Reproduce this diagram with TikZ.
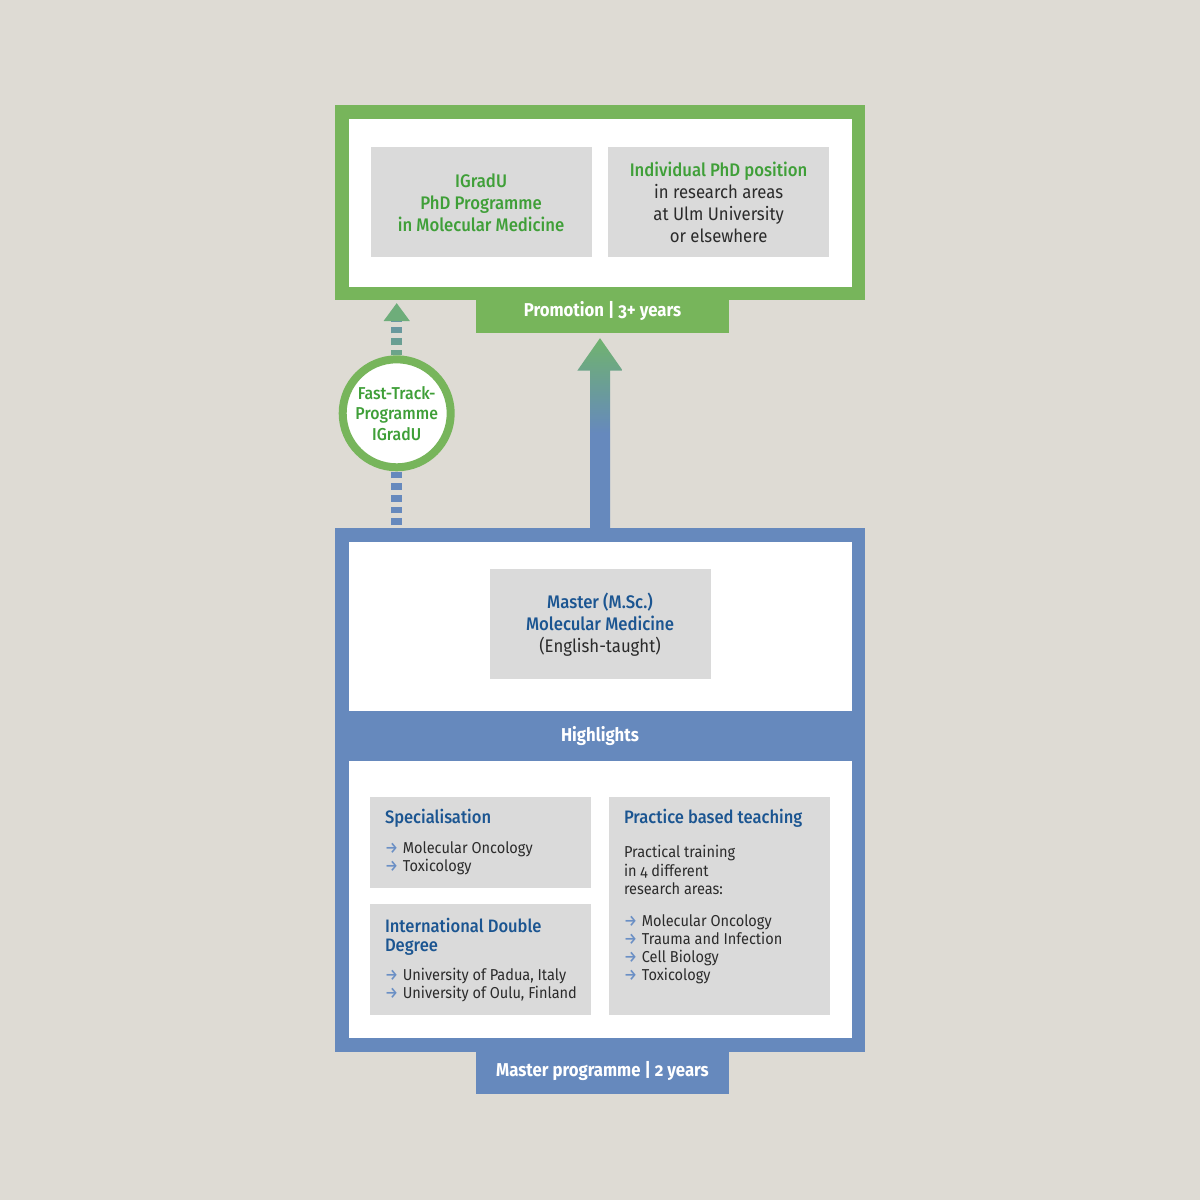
\documentclass[tikz,border=0pt]{standalone}
\usepackage{fontspec}
\setmainfont{Fira Sans}[Numbers=OldStyle,FakeStretch=0.92]
\newfontfamily\medfont{Fira Sans Medium}[Numbers=OldStyle,FakeStretch=0.92]
\newfontfamily\tabfont{Fira Sans}[Numbers=OldStyle,FakeStretch=0.9]
\usetikzlibrary{arrows.meta}
\usetikzlibrary{positioning}
\usetikzlibrary{calc}
\usetikzlibrary{fadings}
\definecolor{bggray}{HTML}{DEDBD4}
\definecolor{promgreen}{HTML}{77B55B}
\definecolor{titlegreen}{HTML}{3F9F38}
\definecolor{arrowgreen}{HTML}{70B36E}
\definecolor{mblue}{HTML}{6689BD}
\definecolor{titleblue}{HTML}{1B5591}
\definecolor{bulletblue}{HTML}{6A8FC5}
\definecolor{boxgray}{HTML}{DADADA}
\definecolor{textdark}{HTML}{2B2B2B}
\newcommand{\arritem}[1]{{\medfont\color{bulletblue}→}\hspace{0.3em}#1}
\tikzset{outerbox/.style = {draw=#1, line width=6.75pt, fill=white, inner sep=0pt}}
\tikzset{greybox/.style = {fill=boxgray, minimum width=110.5pt, inner sep=0pt, align=center,
                           text=textdark, font=\fontsize{9.1}{11}\selectfont}}
\tikzset{tab/.style = {fill=#1, text=white, minimum width=126.25pt, inner sep=0pt,
                       font=\tabfont\bfseries\fontsize{9.3}{11}\selectfont}}
\tikzset{heading/.style = {anchor=base west, inner sep=0pt, align=left, text=titleblue,
                           font=\medfont\fontsize{9}{9.8}\selectfont}}
\tikzset{body/.style = {anchor=base west, inner sep=0pt, align=left, text=textdark,
                        font=\fontsize{7.9}{9.1}\selectfont}}
\tikzset{ftdash/.style = {line width=5.5pt, dash pattern=on 3.35pt off 2.5pt}}
\begin{document}
\begin{tikzpicture}[x=0.5pt, y=-0.5pt]
  \fill[bggray] (0,0) rectangle (1200,1200);
  \useasboundingbox (0,0) rectangle (1200,1200);

  % promotion
  \node[outerbox=promgreen, minimum width=258.25pt, minimum height=90.75pt] (phd) at (600,202.5) {};
  \node[tab=promgreen, minimum height=22.15pt] (ptab) at (602.5,311.1) {Promotion | 3+ years};
  \node[greybox, minimum height=55pt, text=titlegreen, font=\medfont\fontsize{9.1}{11}\selectfont] (igradu) at (481.1,202.3)
    {IGradU\\PhD Programme\\in Molecular Medicine};
  \node[greybox, minimum height=55pt] (indiv) at (718.6,202.3)
    {{\medfont\color{titlegreen}Individual PhD position}\\in research areas\\at Ulm University\\or elsewhere};

  % master
  \node[outerbox=mblue, minimum width=258.25pt, minimum height=255pt] (mbox) at (600,789.75) {};
  \node[fill=mblue, minimum width=251.5pt, minimum height=25.15pt, inner sep=0pt, text=white,
        font=\tabfont\bfseries\fontsize{9.3}{11}\selectfont] (hl) at (600,735.9) {\raisebox{-1.2pt}{Highlights}};
  \node[tab=mblue, minimum height=23.15pt] (mtab) at (602.5,1071.2) {Master programme | 2 years};
  \node[greybox, minimum height=55pt] (msc) at (600,624.2)
    {{\medfont\color{titleblue}Master (M.Sc.)}\\{\medfont\color{titleblue}Molecular Medicine}\\(English-taught)};

  \node[greybox, minimum height=45.5pt] (spec) at (480.5,842.8) {};
  \node[greybox, minimum height=55.2pt] (intl) at (480.5,959.5) {};
  \node[greybox, minimum height=108.7pt] (prac) at (719.5,906) {};

  % base = last line
  \node[heading] (spect) at ($(spec.north west)+(15,27)$) {Specialisation};
  \node[body] (specl) at ($(spec.north west)+(15,74.4)$)
    {\arritem{Molecular Oncology}\\\arritem{Toxicology}};
  \node[heading] (intlt) at ($(intl.north west)+(15,48)$) {International Double\\Degree};
  \node[body] (intll) at ($(intl.north west)+(15,94.7)$)
    {\arritem{University of Padua, Italy}\\\arritem{University of Oulu, Finland}};
  \node[heading] (pract) at ($(prac.north west)+(15,27)$) {Practice based teaching};
  \node[body] (pracb) at ($(prac.north west)+(15,97.4)$)
    {Practical training\\in 4 different\\research areas:};
  \node[body] (pracl) at ($(prac.north west)+(15,183.7)$)
    {\arritem{Molecular Oncology}\\\arritem{Trauma and Infection}\\\arritem{Cell Biology}\\\arritem{Toxicology}};

  % fast track
  \node[circle, draw=promgreen, line width=4pt, fill=white, minimum size=54pt, inner sep=0pt,
        align=center, text=titlegreen, font=\medfont\fontsize{8.6}{10.25}\selectfont] (ft) at (396.7,413.3)
    {Fast-Track-\\Programme\\IGradU};
  \coordinate (fttip) at (396.7,303);

  \draw[ftdash, mblue, dash phase=4.35pt] (ft.south |- mbox.north) -- (ft.south);
  \draw[ftdash, mblue, dash phase=0.7pt, -{Triangle[width=12.5pt,length=9pt,color=arrowgreen!85!mblue]}] (ft.north) -- (fttip);
  \draw[ftdash, arrowgreen!75!mblue, dash phase=0.7pt, shorten >=9pt, path fading=north] (ft.north) -- (fttip);

  \shade[top color=arrowgreen, bottom color=mblue, middle color=mblue]
    ($(mbox.north)+(-10,0)$) -- ($(ptab.south -| mbox.north)+(-10,37)$) -- ++(-12.7,0)
    -- ($(ptab.south -| mbox.north)+(0,4.5)$) -- ++(22.7,32.5) -- ++(-12.7,0)
    -- ($(mbox.north)+(10,0)$) -- cycle;
\end{tikzpicture}
\end{document}
